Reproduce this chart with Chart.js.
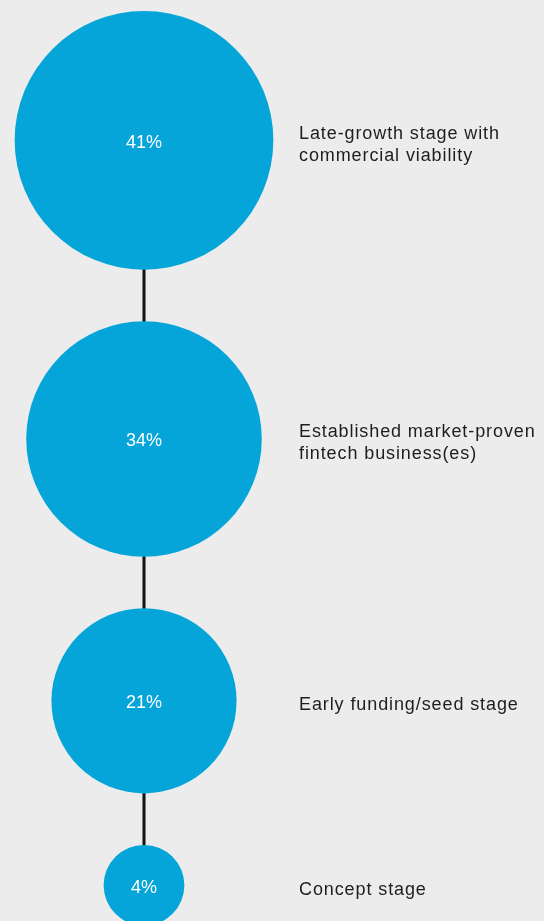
<!DOCTYPE html>
<html lang="en">

<head>
    <meta charset="UTF-8">
    <script src="https://cdn.jsdelivr.net/npm/chart.js"></script>
    <title>Fintech stage</title>
    <style>
        html, body { margin: 0; padding: 0; background: #ececec; }
        .grafico { width: 544px; height: 921px; position: relative; }
    </style>
</head>

<body>
    <div class="grafico">
        <canvas id="graficoBolhas"></canvas>
    </div>
</body>

</html>

<script>
    var etapas = [
        ['Late-growth stage with', 'commercial viability'],
        ['Established market-proven', 'fintech business(es)'],
        ['Early funding/seed stage'],
        ['Concept stage']
    ]
    var percentuais = [41, 34, 21, 4]

    // layout: circle area ~ share, circles stacked with a fixed gap (in sqrt-% units)
    var pxPorUnidade = 20.2
    var topo = 11 / pxPorUnidade
    var espaco = 51.5 / pxPorUnidade
    var centroX = 144 / pxPorUnidade

    var raios = percentuais.map(v => Math.sqrt(v))
    var centrosY = []
    var acum = topo
    raios.forEach((r, i) => {
        if (i > 0) acum += raios[i - 1] + espaco
        centrosY.push(acum + r)
        acum += r
    })

    var linhaPontos = percentuais.map((v, i) => ({ x: centroX, y: centrosY[i] }))
    var bolhas = percentuais.map((v, i) => ({ x: centroX, y: centrosY[i], r: raios[i] * pxPorUnidade }))

    var rotulos = {
        id: 'rotulos',
        afterDatasetsDraw(chart) {
            var ctx = chart.ctx
            var sx = chart.scales.x, sy = chart.scales.y
            ctx.save()
            bolhas.forEach((p, i) => {
                var cx = sx.getPixelForValue(p.x)
                var cy = sy.getPixelForValue(p.y)

                ctx.fillStyle = '#ffffff'
                ctx.font = '18px "Liberation Sans", Arial, sans-serif'
                ctx.textAlign = 'center'
                ctx.textBaseline = 'alphabetic'
                ctx.letterSpacing = '0px'
                ctx.fillText(percentuais[i] + '%', cx, cy + 7.5)

                ctx.fillStyle = '#1e1e1e'
                ctx.textAlign = 'left'
                ctx.letterSpacing = '0.9px'
                var linhas = etapas[i]
                linhas.forEach((t, j) => {
                    ctx.fillText(t, 299, cy + 9.5 + (j - (linhas.length - 1) / 2) * 22)
                })
            })
            ctx.restore()
        }
    }

    var graficoBolhas = new Chart(document.getElementById('graficoBolhas').getContext('2d'), {
        type: 'bubble',
        data: {
            datasets: [{
                type: 'line',
                data: linhaPontos,
                borderColor: '#111111',
                borderWidth: 3,
                pointRadius: 0,
                fill: false,
                order: 2,
                clip: false
            },
            {
                data: bolhas,
                backgroundColor: '#05a5d9',
                borderColor: '#05a5d9',
                borderWidth: 0,
                hoverRadius: 0,
                order: 1,
                clip: false
            }]
        },
        options: {
            responsive: true,
            maintainAspectRatio: false,
            animation: false,
            layout: { padding: 0, autoPadding: false },
            plugins: {
                legend: { display: false },
                tooltip: { enabled: false }
            },
            scales: {
                x: { type: 'linear', display: false, min: 0, max: 544 / pxPorUnidade },
                y: { type: 'linear', display: false, min: 0, max: 921 / pxPorUnidade, reverse: true }
            }
        },
        plugins: [rotulos]
    });
</script>
